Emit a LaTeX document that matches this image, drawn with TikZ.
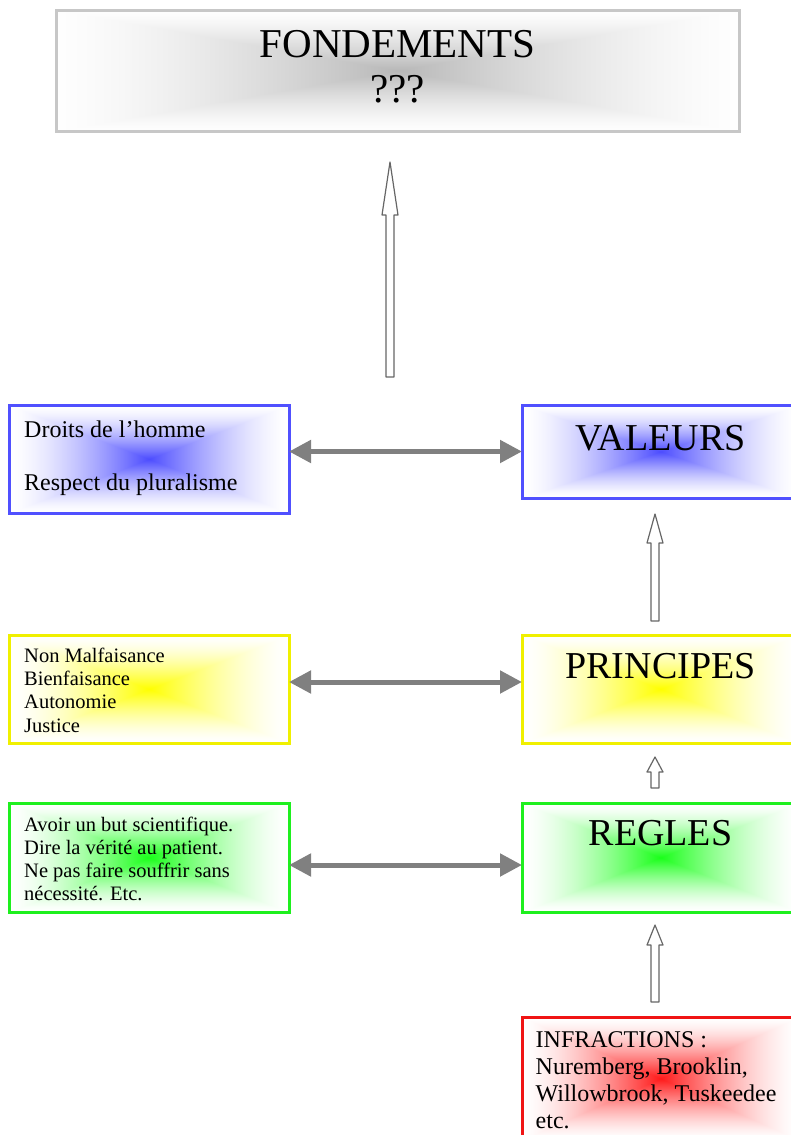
\documentclass[tikz,border=0pt]{standalone}
\usepackage{fontspec}
\setmainfont{Liberation Serif}
\usepackage{tikz}
\usetikzlibrary{arrows.meta, calc}

\definecolor{valblue}{RGB}{80,80,255}
\definecolor{prinyellow}{RGB}{240,240,0}
\definecolor{reggreen}{RGB}{30,240,30}
\definecolor{infred}{RGB}{240,20,20}

% square "pyramid" fade: colour in the middle, white at the border
\newcommand\boxshade[5]{%
  \pgfdeclarefunctionalshading{#1}{\pgfpoint{-50bp}{-50bp}}{\pgfpoint{50bp}{50bp}}{}{%
    abs exch abs 2 copy sub abs add add 50 div #5 mul
    1 exch sub dup abs add 2 div dup sqrt mul
    dup 1 #2 sub mul 1 exch sub exch
    dup 1 #3 sub mul 1 exch sub exch
    1 #4 sub mul 1 exch sub
  }}
\boxshade{grayshade}{0.72}{0.72}{0.72}{0.95}
\boxshade{blueshade}{0.3}{0.3}{1}{1.0}
\boxshade{yellowshade}{1}{1}{0}{1.0}
\boxshade{greenshade}{0.1}{1}{0.1}{1.0}
\boxshade{redshade}{1}{0.1}{0.1}{1.0}

% hollow upward arrow: from, to, head length
\newcommand\hollowup[3]{%
  \draw[hollow] let \p1=#1, \p2=#2 in
    (\x1-4,\y1) -- (\x1-4,\y2-#3) -- (\x1-8,\y2-#3) -- (\x1,\y2)
    -- (\x1+8,\y2-#3) -- (\x1+4,\y2-#3) -- (\x1+4,\y1) -- cycle;}

\begin{document}
\begin{tikzpicture}[x=1pt, y=-1pt,
    box/.style={rectangle, line width=3pt, inner sep=0pt, outer sep=0pt},
    fbox/.style={box, draw=black!22, shading=grayshade, minimum width=683pt,
                 minimum height=121pt},
    lbox/.style={box, minimum width=280pt, minimum height=108pt},
    rbox/.style={box, minimum width=277pt},
    bluebox/.style={draw=valblue, shading=blueshade},
    yellowbox/.style={draw=prinyellow, shading=yellowshade},
    greenbox/.style={draw=reggreen, shading=greenshade},
    redbox/.style={draw=infred, shading=redshade},
    bigtxt/.style={anchor=base, inner sep=0pt, font=\fontsize{38}{42}\selectfont},
    smalltxt/.style={anchor=base west, inner sep=0pt, align=left},
    biarrow/.style={{Triangle[length=22pt,width=22pt]}-{Triangle[length=22pt,width=22pt]},
                    line width=5pt, draw=black!50},
    hollow/.style={draw=black!60, fill=white, line width=1.2pt, line join=round},
]
\useasboundingbox (0,0) rectangle (790,1135);
% top
\node[fbox] (fond) at (397.5,70.5) {};
\node[bigtxt, align=center, font=\fontsize{41}{45}\selectfont] (fond-t)
  at ([yshift=-92pt]fond.north) {FONDEMENTS\\???};
\coordinate (link) at (390,377);
% left column
\node[lbox, bluebox] (droits) at (149,459) {};
\node[lbox, yellowbox] (nonmal) at (149,689) {};
\node[lbox, greenbox, minimum height=109pt] (avoir) at (149,857.5) {};
% right column
\node[rbox, bluebox, minimum height=93pt] (valeurs) at (660.5,451.5) {};
\node[rbox, yellowbox, minimum height=108pt] (principes) at (660.5,689) {};
\node[rbox, greenbox, minimum height=109pt] (regles) at (660.5,857.5) {};
\node[rbox, redbox, minimum height=123pt] (infra) at (660.5,1078.5) {};

% texts (base = last line)
\node[bigtxt] (valeurs-t) at ([yshift=-45pt]valeurs.north) {VALEURS};
\node[bigtxt] (principes-t) at ([yshift=-43pt]principes.north) {PRINCIPES};
\node[bigtxt] (regles-t) at ([yshift=-42pt]regles.north) {REGLES};
\node[smalltxt, font=\fontsize{24}{26.5}\selectfont] (droits-t)
  at ([xshift=15pt,yshift=-85pt]droits.north west)
  {Droits de l’homme\\[26.5pt]Respect du pluralisme};
\node[smalltxt, font=\fontsize{20.5}{23.3}\selectfont] (nonmal-t)
  at ([xshift=15pt,yshift=-97pt]nonmal.north west)
  {Non Malfaisance\\Bienfaisance\\Autonomie\\Justice};
\node[smalltxt, font=\fontsize{20.5}{22.7}\selectfont] (avoir-t)
  at ([xshift=15pt,yshift=-97pt]avoir.north west)
  {Avoir un but scientifique.\\Dire la vérité au patient.\\Ne pas faire souffrir sans\\nécessité. Etc.};
\node[smalltxt, font=\fontsize{24}{27}\selectfont] (infra-t)
  at ([xshift=13.5pt,yshift=-111pt]infra.north west)
  {INFRACTIONS :\\Nuremberg, Brooklin,\\Willowbrook, Tuskeedee\\etc.};

% links left - right
\draw[biarrow] (droits.east |- valeurs.west) -- (valeurs.west);
\draw[biarrow] ([yshift=7pt]nonmal.east) -- ([yshift=7pt]principes.west);
\draw[biarrow] ([yshift=-7.5pt]avoir.east) -- ([yshift=-7.5pt]regles.west);

% upward arrows
\hollowup{(link)}{([xshift=-7.5pt,yshift=-31pt]fond.south)}{53}
\hollowup{([xshift=-5.5pt,yshift=14pt]principes.north)}{([xshift=-5.5pt,yshift=-16pt]valeurs.south)}{29}
\hollowup{([xshift=-5.5pt,yshift=15pt]regles.north)}{([xshift=-5.5pt,yshift=-14pt]principes.south)}{15}
\hollowup{([xshift=-5.5pt,yshift=15pt]infra.north)}{([xshift=-5.5pt,yshift=-13pt]regles.south)}{20}
\end{tikzpicture}
\end{document}
